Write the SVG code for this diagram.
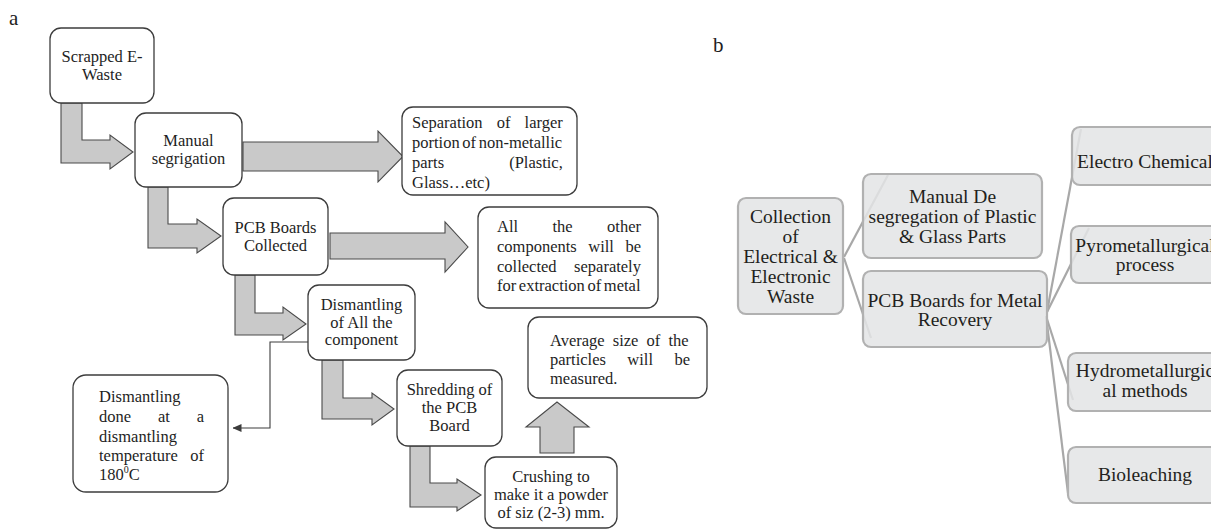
<svg xmlns="http://www.w3.org/2000/svg" width="1211" height="530" viewBox="0 0 1211 530">
<style>
.bx{fill:#ffffff;stroke:#3c3c3c;stroke-width:1.3}
.ar{fill:#c9c9c9;stroke:#4a4a4a;stroke-width:1.1;stroke-linejoin:miter}
.ta{font-family:"Liberation Serif","Times New Roman",serif;font-size:16.5px;fill:#1e1e1e}
.c{text-anchor:middle}
.lbl{font-family:"Liberation Serif","Times New Roman",serif;font-size:21px;fill:#1e1e1e}
.bb{fill:#e3e4e5;fill-opacity:0.86;stroke:#b1b1b1;stroke-width:2.2}
.tb{font-family:"Liberation Serif","Times New Roman",serif;font-size:19.5px;fill:#231f20;text-anchor:middle}
.cn{fill:none;stroke:#a8a8a8;stroke-width:2.2}
.th{fill:none;stroke:#3c3c3c;stroke-width:1.1}
</style>
<defs>
<marker id="ah" markerWidth="9" markerHeight="8" refX="8.5" refY="4" orient="auto" markerUnits="userSpaceOnUse">
<path d="M0,0 L9,4 L0,8 Z" fill="#3c3c3c"/>
</marker>
</defs>
<rect width="1211" height="530" fill="#ffffff"/>
<text class="lbl" x="9" y="25">a</text>
<text class="lbl" x="713" y="52">b</text>

<g id="connectors">
<path class="ar" d="M61,103 H82 V140 H110 V135 L133,152 L110,169 V163 H61 Z"/>
<path class="ar" d="M148,187 H168 V224 H197 V219 L221,236 L197,253 V248 H148 Z"/>
<path class="ar" d="M235,275 H255 V313 H283 V307 L306,324 L283,340 V335 H235 Z"/>
<path class="ar" d="M322,360 H343 V398 H372 V393 L394,409 L372,425 V419 H322 Z"/>
<path class="ar" d="M410,446 H430 V483 H457 V479 L481,495 L457,511 V507 H410 Z"/>
<path class="ar" d="M243,142 H378 V131 L403,156.5 L378,182 V171 H243 Z"/>
<path class="ar" d="M330,233 H445 V222 L468,247 L445,272 V259 H330 Z"/>
<path class="ar" d="M540,453 V427 H526 L557,402 L589,427 H574 V453 Z"/>
<path class="th" d="M308,342 H270 V428 H233" marker-end="url(#ah)"/>
<line class="cn" x1="844" y1="257" x2="888" y2="175"/>
<line class="cn" x1="844" y1="258" x2="871" y2="338"/>
<line class="cn" x1="1047" y1="312" x2="1081" y2="129"/>
<line class="cn" x1="1047" y1="312" x2="1089" y2="228"/>
<line class="cn" x1="1046" y1="316" x2="1073" y2="400"/>
<line class="cn" x1="1046" y1="316" x2="1068" y2="493"/>
</g>

<g id="scrapped">
<rect class="bx" x="50" y="28" width="104" height="75" rx="11"/>
<text class="ta c" x="102" y="62">Scrapped E-</text>
<text class="ta c" x="102" y="79.5">Waste</text>
</g>
<g id="manual-segrigation">
<rect class="bx" x="135" y="113" width="107" height="74" rx="11"/>
<text class="ta c" x="188.5" y="146">Manual</text>
<text class="ta c" x="188.5" y="163.5">segrigation</text>
</g>
<g id="separation">
<rect class="bx" x="402" y="107" width="175" height="88" rx="11"/>
<text class="ta" x="412" y="128" word-spacing="10">Separation of larger</text>
<text class="ta" x="412" y="148" word-spacing="-1.5">portion of non-metallic</text>
<text class="ta" x="412" y="168" word-spacing="61">parts (Plastic,</text>
<text class="ta" x="412" y="188">Glass…etc)</text>
</g>
<g id="pcb-collected">
<rect class="bx" x="223" y="198" width="105" height="77" rx="11"/>
<text class="ta c" x="275.5" y="233">PCB Boards</text>
<text class="ta c" x="275.5" y="250.5">Collected</text>
</g>
<g id="other-components">
<rect class="bx" x="478" y="207" width="180" height="101" rx="11"/>
<text class="ta" x="497" y="232" word-spacing="30.3">All the other</text>
<text class="ta" x="497" y="252" word-spacing="7.4">components will be</text>
<text class="ta" x="497" y="272" word-spacing="13.4">collected separately</text>
<text class="ta" x="497" y="291" word-spacing="-1.5">for extraction of metal</text>
</g>
<g id="dismantling-all">
<rect class="bx" x="308" y="285" width="107" height="75" rx="11"/>
<text class="ta c" x="361.5" y="310">Dismantling</text>
<text class="ta c" x="361.5" y="327.5">of All the</text>
<text class="ta c" x="361.5" y="345">component</text>
</g>
<g id="dismantling-done">
<rect class="bx" x="73" y="375" width="155" height="117" rx="13"/>
<text class="ta" x="99" y="402">Dismantling</text>
<text class="ta" x="99" y="422" word-spacing="22.7">done at a</text>
<text class="ta" x="99" y="442">dismantling</text>
<text class="ta" x="99" y="461" word-spacing="8.4">temperature of</text>
<text class="ta" x="99" y="480">180<tspan font-size="10" dy="-7">0</tspan><tspan dy="7">C</tspan></text>
</g>
<g id="shredding">
<rect class="bx" x="397" y="370" width="105" height="76" rx="11"/>
<text class="ta c" x="449.5" y="395">Shredding of</text>
<text class="ta c" x="449.5" y="413">the PCB</text>
<text class="ta c" x="449.5" y="431">Board</text>
</g>
<g id="crushing">
<rect class="bx" x="485" y="457" width="132" height="71" rx="11"/>
<text class="ta c" x="551" y="482">Crushing to</text>
<text class="ta c" x="551" y="500">make it a powder</text>
<text class="ta c" x="551" y="517.5">of siz (2-3) mm.</text>
</g>
<g id="average-size">
<rect class="bx" x="528" y="317" width="179" height="81" rx="11"/>
<text class="ta" x="550" y="346" word-spacing="4">Average size of the</text>
<text class="ta" x="550" y="365" word-spacing="17.3">particles will be</text>
<text class="ta" x="550" y="384">measured.</text>
</g>

<g id="collection">
<rect class="bb" x="738" y="198" width="105" height="116" rx="8"/>
<text class="tb" x="790.5" y="223">Collection</text>
<text class="tb" x="790.5" y="243">of</text>
<text class="tb" x="790.5" y="263">Electrical &amp;</text>
<text class="tb" x="790.5" y="283">Electronic</text>
<text class="tb" x="790.5" y="303">Waste</text>
</g>
<g id="manual-de">
<rect class="bb" x="863" y="174" width="179" height="84" rx="8"/>
<text class="tb" x="952.5" y="203">Manual De</text>
<text class="tb" x="952.5" y="223">segregation of Plastic</text>
<text class="tb" x="952.5" y="243">&amp; Glass Parts</text>
</g>
<g id="pcb-metal">
<rect class="bb" x="863" y="271" width="184" height="76" rx="8"/>
<text class="tb" x="955" y="306.5">PCB Boards for Metal</text>
<text class="tb" x="955" y="326">Recovery</text>
</g>
<g id="electro">
<rect class="bb" x="1072" y="127" width="148" height="58" rx="8"/>
<text class="tb" x="1145" y="168">Electro Chemical</text>
</g>
<g id="pyro">
<rect class="bb" x="1071" y="226" width="149" height="57" rx="8"/>
<text class="tb" x="1145" y="251.5">Pyrometallurgical</text>
<text class="tb" x="1145" y="271">process</text>
</g>
<g id="hydro">
<rect class="bb" x="1068" y="353" width="152" height="58" rx="8"/>
<text class="tb" x="1145" y="377">Hydrometallurgic</text>
<text class="tb" x="1145" y="397">al methods</text>
</g>
<g id="bio">
<rect class="bb" x="1068" y="447" width="152" height="56" rx="8"/>
<text class="tb" x="1145" y="481">Bioleaching</text>
</g>
</svg>
